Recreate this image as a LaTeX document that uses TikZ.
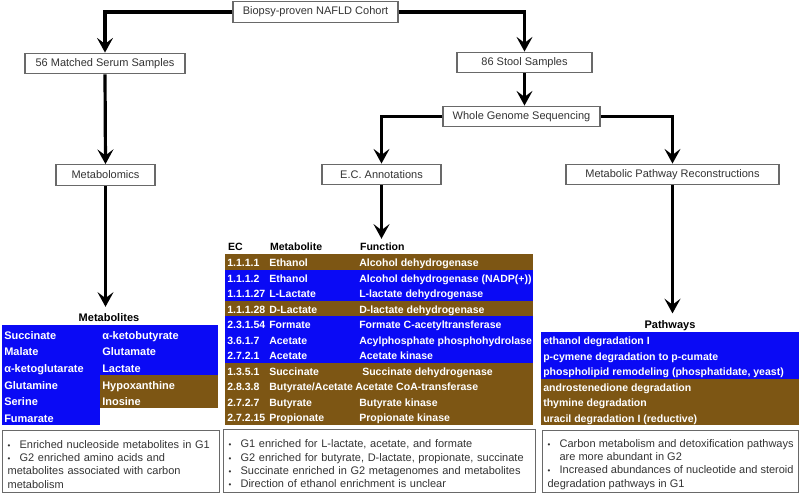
\documentclass[tikz,border=0pt]{standalone}
\usepackage{fontspec}
\setmainfont{Liberation Sans}
\usetikzlibrary{arrows.meta}
\definecolor{rowblue}{RGB}{10,10,245}
\definecolor{rowbrown}{RGB}{125,86,20}
\definecolor{boxgray}{RGB}{105,105,105}
\newcommand{\bul}{\par\hangindent=9pt\hangafter=1\noindent\makebox[9pt][l]{\fontsize{6}{6}\selectfont\textbullet}}
\tikzset{
  flowbox/.style={draw=boxgray, line width=0.9pt, fill=white, text=black!80,
    font=\fontsize{8.25}{10}\selectfont, minimum height=15.5pt, inner sep=0pt},
  flow/.style={line width=2.4pt, -{Stealth[length=11pt,width=12pt,inset=4.5pt]}},
  cell/.style={anchor=base west, inner sep=0pt, text=white, font=\bfseries\fontsize{7.9}{9}\selectfont},
  bigcell/.style={cell, font=\bfseries\fontsize{8.25}{10}\selectfont},
  headcell/.style={anchor=base west, inner sep=2.5pt, font=\bfseries\fontsize{7.9}{9}\selectfont},
  titlecell/.style={anchor=base, inner sep=5pt, font=\bfseries\fontsize{8.25}{10}\selectfont},
  notebox/.style={draw=boxgray, line width=0.9pt, text=black!80, anchor=north west,
    font=\fontsize{8.25}{10}\selectfont, inner xsep=3.75pt, inner ysep=0pt, align=left}
}
\begin{document}
\begin{tikzpicture}[x=0.75pt,y=-0.75pt]
  \useasboundingbox (0,0) rectangle (800,493);

  % flow chart boxes
  \node[flowbox,minimum width=123.75pt] (cohort) at (315.5,12) {Biopsy-proven NAFLD Cohort};
  \node[flowbox,minimum width=120pt] (serum) at (105,63.5) {56 Matched Serum Samples};
  \node[flowbox,minimum width=74.25pt] (metab) at (105.5,175) {Metabolomics};
  \node[flowbox,minimum width=101.25pt] (stool) at (524.5,62.5) {86 Stool Samples};
  \node[flowbox,minimum width=117.75pt] (wgs) at (521.5,116.5) {Whole Genome Sequencing};
  \node[flowbox,minimum width=89.25pt] (ecann) at (381.5,174.5) {E.C. Annotations};
  \node[flowbox,minimum width=159.75pt] (mpr) at (672.5,174.5) {Metabolic Pathway Reconstructions};

  % metabolites (serum)
  \def\mt{325}
  \def\mh{16.67}
  \node[titlecell] (metabtitle) at (109,321.7) {Metabolites};
  \foreach \m [count=\i from 0] in {Succinate,Malate,α-ketoglutarate,Glutamine,Serine,Fumarate} {
    \fill[rowblue] (2,\mt+\i*\mh) rectangle (100,\mt+\i*\mh+\mh);
    \node[bigcell] (ml\i) at (4,\mt+\i*\mh+14) {\m};
  }
  \foreach \m/\c [count=\i from 0] in {α-ketobutyrate/rowblue,Glutamate/rowblue,Lactate/rowblue,Hypoxanthine/rowbrown,Inosine/rowbrown} {
    \fill[\c] (100,\mt+\i*\mh) rectangle (218,\mt+\i*\mh+\mh);
    \node[bigcell] (mr\i) at (102,\mt+\i*\mh+14) {\m};
  }

  % E.C. table
  \def\rt{254}
  \def\rs{15.5}
  \node[headcell] (hec) at (224.5,250) {EC};
  \node[headcell] (hmet) at (266.5,250) {Metabolite};
  \node[headcell] (hfunc) at (356.5,250) {Function};
  \foreach \ec/\met/\fun/\fx/\c [count=\i from 0] in {
      1.1.1.1/Ethanol/Alcohol dehydrogenase/359/rowbrown,
      1.1.1.2/Ethanol/Alcohol dehydrogenase (NADP(+))/359/rowblue,
      1.1.1.27/L-Lactate/L-lactate dehydrogenase/359/rowblue,
      1.1.1.28/D-Lactate/D-lactate dehydrogenase/359/rowbrown,
      2.3.1.54/Formate/Formate C-acetyltransferase/359/rowblue,
      3.6.1.7/Acetate/Acylphosphate phosphohydrolase/359/rowblue,
      2.7.2.1/Acetate/Acetate kinase/359/rowblue,
      1.3.5.1/Succinate/Succinate dehydrogenase/362/rowbrown,
      2.8.3.8/{Butyrate/Acetate}/Acetate CoA-transferase/355/rowbrown,
      2.7.2.7/Butyrate/Butyrate kinase/359/rowbrown,
      2.7.2.15/Propionate/Propionate kinase/359/rowbrown} {
    \fill[\c] (225,\rt+\i*\rs) rectangle (533,\rt+\i*\rs+\rs);
    \node[cell] (ec\i) at (227,\rt+\i*\rs+12.5) {\ec};
    \node[cell] (met\i) at (269,\rt+\i*\rs+12.5) {\met};
    \node[cell] (fun\i) at (\fx,\rt+\i*\rs+12.5) {\fun};
  }

  % pathways table
  \def\pt{332}
  \node[titlecell] (pathtitle) at (670,328.3) {Pathways};
  \foreach \p/\c [count=\i from 0] in {
      ethanol degradation I/rowblue,
      p-cymene degradation to p-cumate/rowblue,
      {phospholipid remodeling (phosphatidate, yeast)}/rowblue,
      androstenedione degradation/rowbrown,
      thymine degradation/rowbrown,
      uracil degradation I (reductive)/rowbrown} {
    \fill[\c] (541,\pt+\i*\rs) rectangle (799,\pt+\i*\rs+\rs);
    \node[cell] (pw\i) at (543,\pt+\i*\rs+12.5) {\p};
  }

  % summary boxes
  \node[notebox,text width=155.25pt,minimum height=46.5pt] (leftnote) at (2,430) {%
    \bul Enriched nucleoside metabolites in G1
    \bul G2 enriched amino acids and\\metabolites associated with carbon\\metabolism};
  \node[notebox,text width=226.5pt,minimum height=47.25pt] (midnote) at (223,429) {%
    \bul G1 enriched for L-lactate, acetate, and formate
    \bul G2 enriched for butyrate, D-lactate, propionate, succinate
    \bul Succinate enriched in G2 metagenomes and metabolites
    \bul Direction of ethanol enrichment is unclear};
  \node[notebox,text width=184.5pt,minimum height=46.5pt,align=justify] (rightnote) at (542,430) {%
    \bul Carbon metabolism and detoxification pathways\linebreak are more abundant in G2
    \bul Increased abundances of nucleotide and steroid\linebreak degradation pathways in G1};

  % arrows
  \draw[flow] (cohort.west) -| (serum.north);
  \draw[flow] (cohort.east) -| (stool.north);
  \draw[flow] (serum.south) -- (metab.north);
  \draw[flow] (stool.south) -- (stool.south |- wgs.north);
  \draw[flow] (wgs.west) -| (ecann.north);
  \draw[flow] (wgs.east) -| (mpr.north);
  \draw[flow] (metab.south) -- (metab.south |- metabtitle.north);
  \draw[flow] (ecann.south) -- (ecann.south |- hfunc.north);
  \draw[flow] (mpr.south) -- (mpr.south |- pathtitle.north);
\end{tikzpicture}
\end{document}
